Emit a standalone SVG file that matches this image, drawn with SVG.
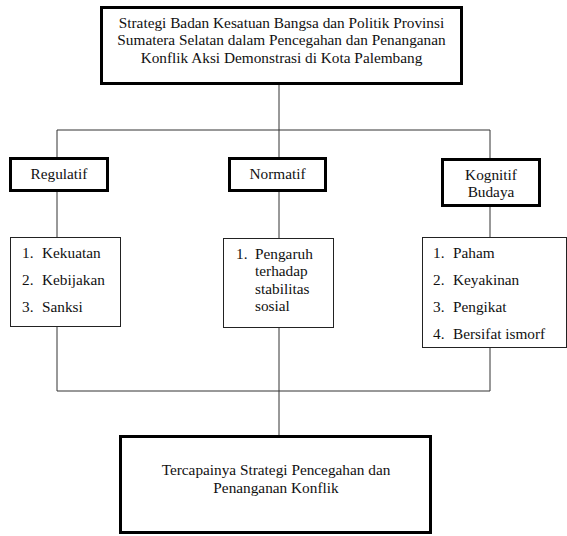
<svg xmlns="http://www.w3.org/2000/svg" width="567" height="536" viewBox="0 0 567 536">
<style>
text{font-family:"Liberation Serif","Times New Roman",serif;font-size:15.3px;fill:#111}
.c{text-anchor:middle}
.thick{fill:#fff;stroke:#000;stroke-width:3}
.thin{fill:#fff;stroke:#222;stroke-width:1}
.conn{fill:none;stroke:#333;stroke-width:1}
</style>
<rect width="567" height="536" fill="#fff"/>
<g id="connectors" class="conn">
<path d="M279 85V130M57 130H490M57 130V157M279 130V157M490 130V158"/>
<path d="M57 192V237M279 192V238M490 207V237"/>
<path d="M57 327V391H490V348M279 328V435"/>
</g>
<g id="top">
<rect class="thick" x="101.5" y="7.5" width="360" height="76"/>
<text class="c" x="281.5" y="27.5">Strategi Badan Kesatuan Bangsa dan Politik Provinsi</text>
<text class="c" x="281.5" y="45">Sumatera Selatan dalam Pencegahan dan Penanganan</text>
<text class="c" x="281.5" y="62.5">Konflik Aksi Demonstrasi di Kota Palembang</text>
</g>
<g id="regulatif">
<rect class="thick" x="10.5" y="158.5" width="97" height="32"/>
<text class="c" x="59" y="179">Regulatif</text>
</g>
<g id="normatif">
<rect class="thick" x="229.5" y="158.5" width="96" height="32"/>
<text class="c" x="277.5" y="179">Normatif</text>
</g>
<g id="kognitif">
<rect class="thick" x="442.5" y="159.5" width="97" height="46"/>
<text class="c" x="491" y="180">Kognitif</text>
<text class="c" x="491" y="197">Budaya</text>
</g>
<g id="list-regulatif">
<rect class="thin" x="10.5" y="237.5" width="110" height="89"/>
<text x="22" y="258">1.</text><text x="42" y="258">Kekuatan</text>
<text x="22" y="285">2.</text><text x="42" y="285">Kebijakan</text>
<text x="22" y="312">3.</text><text x="42" y="312">Sanksi</text>
</g>
<g id="list-normatif">
<rect class="thin" x="223.5" y="238.5" width="110" height="89"/>
<text x="236" y="258.5">1.</text>
<text x="255" y="258.5">Pengaruh</text>
<text x="255" y="276">terhadap</text>
<text x="255" y="293.5">stabilitas</text>
<text x="255" y="311">sosial</text>
</g>
<g id="list-kognitif">
<rect class="thin" x="422.5" y="237.5" width="144" height="110"/>
<text x="433" y="258">1.</text><text x="453" y="258">Paham</text>
<text x="433" y="285">2.</text><text x="453" y="285">Keyakinan</text>
<text x="433" y="312">3.</text><text x="453" y="312">Pengikat</text>
<text x="433" y="339">4.</text><text x="453" y="339">Bersifat ismorf</text>
</g>
<g id="bottom">
<rect class="thick" x="120.5" y="436.5" width="310" height="96"/>
<text class="c" x="276" y="475">Tercapainya Strategi Pencegahan dan</text>
<text class="c" x="276" y="493">Penanganan Konflik</text>
</g>
</svg>
